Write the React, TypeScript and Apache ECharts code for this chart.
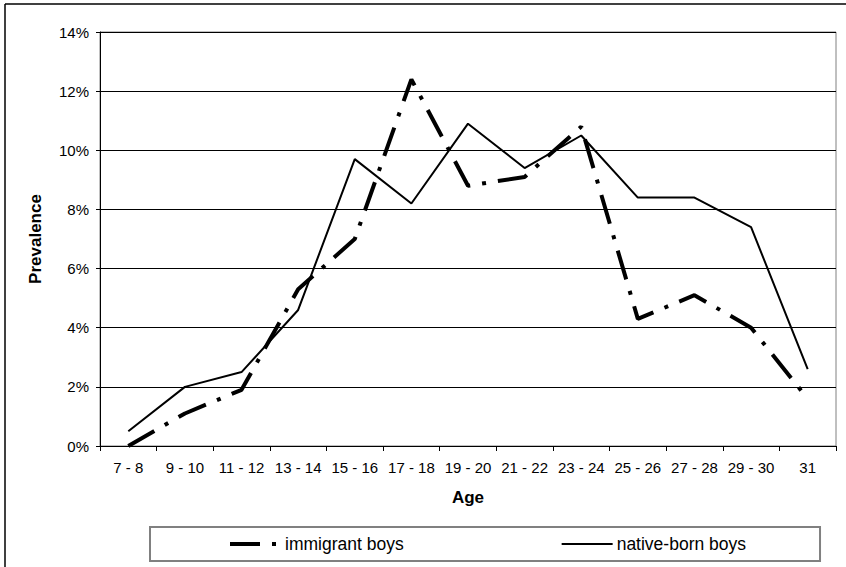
import React, { useEffect, useRef } from "react";
import * as echarts from "echarts";

const categories = ["7 - 8", "9 - 10", "11 - 12", "13 - 14", "15 - 16", "17 - 18", "19 - 20", "21 - 22", "23 - 24", "25 - 26", "27 - 28", "29 - 30", "31"];
const immigrantBoys = [0.0, 1.1, 1.9, 5.3, 7.0, 12.4, 8.8, 9.1, 10.8, 4.3, 5.1, 4.0, 1.6];
const nativeBornBoys = [0.5, 2.0, 2.5, 4.6, 9.7, 8.2, 10.9, 9.4, 10.5, 8.4, 8.4, 7.4, 2.6];
const yTicks = { min: 0, max: 14, interval: 2 };

const FONT = "Liberation Sans, Arial, sans-serif";

export default function App() {
  const ref = useRef<HTMLDivElement>(null);
  useEffect(() => {
    if (!ref.current) return;
    const chart = echarts.init(ref.current, null, { renderer: "svg" });
    chart.setOption({
      animation: false,
      backgroundColor: "#fff",
      textStyle: { fontFamily: FONT },
      grid: {
        left: 100,
        top: 32,
        right: 10,
        bottom: 121,
        show: true,
        borderColor: "#808080",
        borderWidth: 1,
        backgroundColor: "transparent",
      },
      graphic: [
        { type: "line", shape: { x1: 5, y1: 4, x2: 846, y2: 4 }, style: { stroke: "#000", lineWidth: 1.5 }, z: 10 },
        { type: "line", shape: { x1: 5, y1: 4, x2: 5, y2: 567 }, style: { stroke: "#000", lineWidth: 1.5 }, z: 10 },
      ],
      legend: {
        left: 150,
        top: 527,
        orient: "horizontal",
        padding: [8, 74, 8, 78],
        itemGap: 157,
        itemWidth: 51,
        itemHeight: 14,
        borderColor: "#808080",
        borderWidth: 2,
        itemStyle: { color: "transparent", borderWidth: 0, opacity: 0 },
        lineStyle: { width: "inherit", type: "inherit", cap: "butt" },
        textStyle: { fontFamily: FONT, fontSize: 17.5, color: "#000", padding: [0, 0, 0, -1] },
        data: ["immigrant boys", "native-born boys"],
      },
      xAxis: {
        type: "category",
        data: categories,
        boundaryGap: true,
        name: "Age",
        nameLocation: "middle",
        nameGap: 43,
        nameTextStyle: { fontFamily: FONT, fontSize: 17, fontWeight: "bold", color: "#000" },
        axisLine: { lineStyle: { color: "#000", width: 1 } },
        axisTick: { show: true, length: 5, interval: 0, lineStyle: { color: "#000" } },
        axisLabel: { interval: 0, fontFamily: FONT, fontSize: 15, color: "#000", margin: 14 },
        splitLine: { show: false },
      },
      yAxis: {
        type: "value",
        min: yTicks.min,
        max: yTicks.max,
        interval: yTicks.interval,
        name: "Prevalence",
        nameLocation: "middle",
        nameGap: 56,
        nameTextStyle: { fontFamily: FONT, fontSize: 17, fontWeight: "bold", color: "#000" },
        axisLine: { show: true, lineStyle: { color: "#000", width: 1 } },
        axisTick: { show: true, length: 4, lineStyle: { color: "#000" } },
        axisLabel: { formatter: "{value}%", fontFamily: FONT, fontSize: 15, color: "#000", margin: 11 },
        splitLine: { show: true, lineStyle: { color: "#000", width: 1 } },
      },
      series: [
        {
          name: "immigrant boys",
          type: "line",
          data: immigrantBoys,
          symbol: "none",
          lineStyle: { color: "#000", width: 4, type: [30, 12, 4, 12], cap: "butt" },
          itemStyle: { color: "#000" },
          z: 3,
        },
        {
          name: "native-born boys",
          type: "line",
          data: nativeBornBoys,
          symbol: "none",
          lineStyle: { color: "#000", width: 2 },
          itemStyle: { color: "#000" },
          z: 4,
        },
      ],
    });
    return () => chart.dispose();
  }, []);
  return <div ref={ref} style={{ position: "absolute", left: 0, top: 0, width: 846, height: 567 }} />;
}
